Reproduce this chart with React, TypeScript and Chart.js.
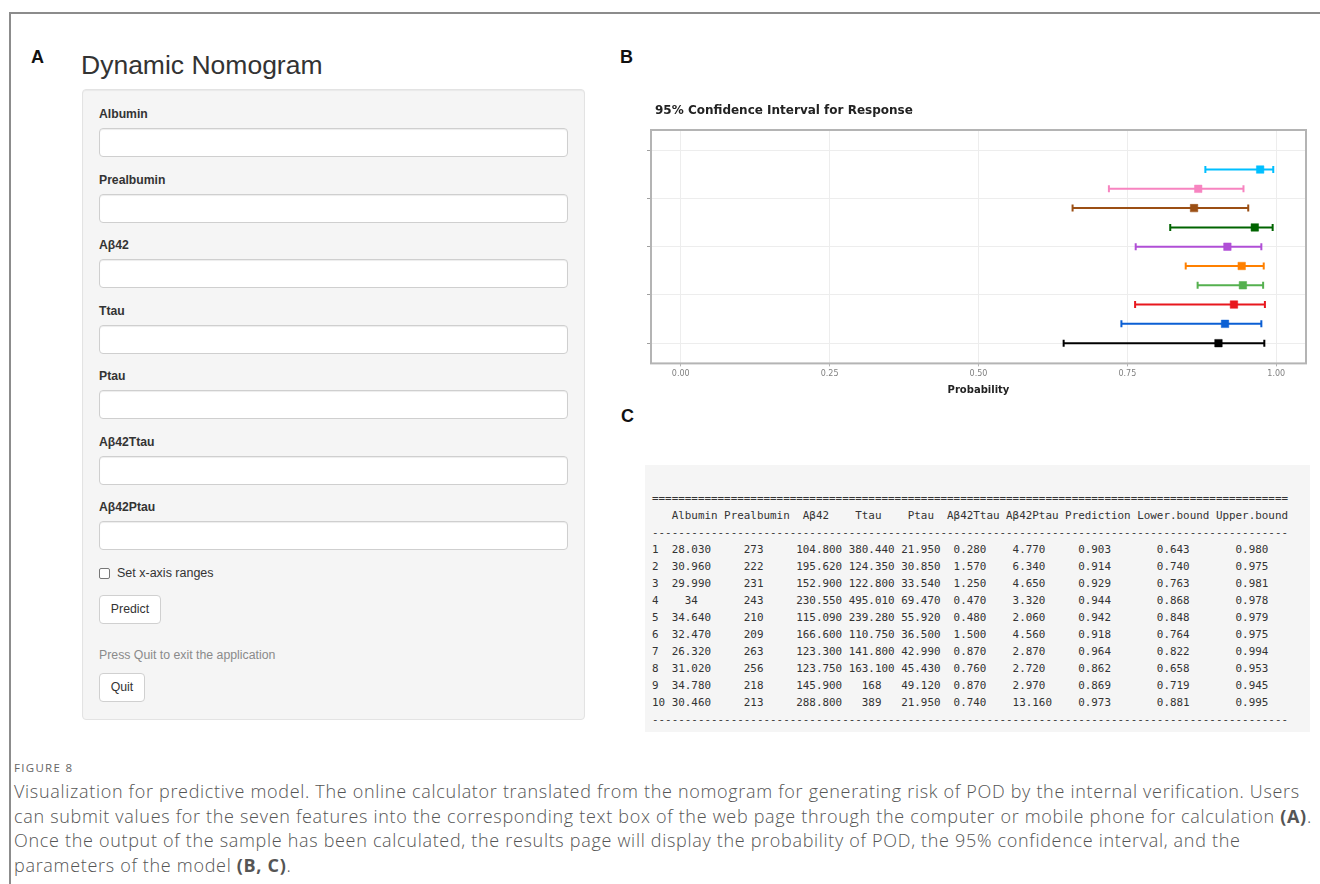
import React, { useEffect, useRef } from 'react';
import { Chart, registerables } from 'chart.js';

Chart.register(...registerables);

// ---------------- data ----------------
const rowIds = ['1', '2', '3', '4', '5', '6', '7', '8', '9', '10'];
const albumin = [28.03, 30.96, 29.99, 34, 34.64, 32.47, 26.32, 31.02, 34.78, 30.46];
const prealbumin = [273, 222, 231, 243, 210, 209, 263, 256, 218, 213];
const abeta42 = [104.8, 195.62, 152.9, 230.55, 115.09, 166.6, 123.3, 123.75, 145.9, 288.8];
const ttau = [380.44, 124.35, 122.8, 495.01, 239.28, 110.75, 141.8, 163.1, 168, 389];
const ptau = [21.95, 30.85, 33.54, 69.47, 55.92, 36.5, 42.99, 45.43, 49.12, 21.95];
const abeta42Ttau = [0.28, 1.57, 1.25, 0.47, 0.48, 1.5, 0.87, 0.76, 0.87, 0.74];
const abeta42Ptau = [4.77, 6.34, 4.65, 3.32, 2.06, 4.56, 2.87, 2.72, 2.97, 13.16];
const prediction = [0.903, 0.914, 0.929, 0.944, 0.942, 0.918, 0.964, 0.862, 0.869, 0.973];
const lowerBound = [0.643, 0.74, 0.763, 0.868, 0.848, 0.764, 0.822, 0.658, 0.719, 0.881];
const upperBound = [0.98, 0.975, 0.981, 0.978, 0.979, 0.975, 0.994, 0.953, 0.945, 0.995];
const rowColors = ['#000000', '#0b5fd4', '#e8171e', '#55b04f', '#ff8000', '#b04fd6', '#006400', '#9b4f14', '#f784c0', '#00bfff'];

const tableHeaders = ['Albumin', 'Prealbumin', 'Aβ42', 'Ttau', 'Ptau', 'Aβ42Ttau', 'Aβ42Ptau', 'Prediction', 'Lower.bound', 'Upper.bound'];
const formFields = ['Albumin', 'Prealbumin', 'Aβ42', 'Ttau', 'Ptau', 'Aβ42Ttau', 'Aβ42Ptau'];

const chartTitle = '95% Confidence Interval for Response';
const xAxisTitle = 'Probability';
const xTicks = [0, 0.25, 0.5, 0.75, 1];
const yTicks = [0, 2.5, 5, 7.5, 10];

const captionHead = 'FIGURE 8';

// ---------------- table text ----------------
const fmt = (v: number) => (Number.isInteger(v) ? String(v) : v.toFixed(3));
const tableColumns = [albumin, prealbumin, abeta42, ttau, ptau, abeta42Ttau, abeta42Ptau, prediction, lowerBound, upperBound];

function buildTable(): string {
  const cols = tableColumns.map((c) => c.map(fmt));
  const widths = tableHeaders.map((h, j) => Math.max(h.length, ...cols[j].map((s) => s.length)));
  const idW = Math.max(...rowIds.map((r) => r.length));
  const center = (s: string, w: number) => {
    const l = Math.floor((w - s.length) / 2);
    return ' '.repeat(l) + s + ' '.repeat(w - s.length - l);
  };
  const total = idW + widths.reduce((a, w) => a + w + 1, 0);
  const lines: string[] = [];
  lines.push('='.repeat(total));
  lines.push(' '.repeat(idW) + tableHeaders.map((h, j) => ' ' + center(h, widths[j])).join(''));
  lines.push('-'.repeat(total));
  rowIds.forEach((r, i) => {
    lines.push(r.padEnd(idW) + cols.map((c, j) => ' ' + center(c[i], widths[j])).join(''));
  });
  lines.push('-'.repeat(total));
  return lines.map((l) => l.replace(/\s+$/, '')).join('\n');
}

// ---------------- chart ----------------
const framePlugin = {
  id: 'plotFrame',
  afterDraw(chart: any) {
    const { ctx, chartArea: a } = chart;
    ctx.save();
    ctx.strokeStyle = '#b4b4b4';
    ctx.lineWidth = 2;
    ctx.strokeRect(a.left, a.top, a.right - a.left, a.bottom - a.top);
    ctx.restore();
  },
};

const titlePlugin = {
  id: 'plotTitle',
  afterDraw(chart: any) {
    const { ctx, chartArea: a } = chart;
    ctx.save();
    ctx.font = 'bold 12px "DejaVu Sans"';
    ctx.fillStyle = '#222222';
    ctx.textBaseline = 'middle';
    ctx.textAlign = 'left';
    ctx.fillText(chartTitle, a.left + 4, a.top - 19);
    ctx.restore();
  },
};

function ForestChart() {
  const ref = useRef<HTMLCanvasElement>(null);
  useEffect(() => {
    if (!ref.current) return;
    const intervalSets = prediction.map((_, i) => ({
      data: [
        { x: lowerBound[i], y: i },
        { x: upperBound[i], y: i },
      ],
      showLine: true,
      borderColor: rowColors[i],
      borderWidth: 2,
      pointStyle: 'line',
      pointRotation: 90,
      pointRadius: 3.5,
      pointBorderWidth: 2,
      pointBorderColor: rowColors[i],
      pointBackgroundColor: rowColors[i],
      order: 1,
    }));
    const pointSet = {
      data: prediction.map((p, i) => ({ x: p, y: i })),
      showLine: false,
      pointStyle: 'rect',
      pointRadius: 5.3,
      pointBackgroundColor: rowColors,
      pointBorderColor: rowColors,
      pointBorderWidth: 0.5,
      order: 0,
    };
    const chart = new Chart(ref.current, {
      type: 'scatter',
      data: { datasets: [pointSet as any, ...(intervalSets as any[])] },
      options: {
        animation: false,
        responsive: false,
        devicePixelRatio: 1,
        events: [],
        layout: { padding: { left: 17, right: 14, top: 35, bottom: 9 } },
        plugins: {
          legend: { display: false },
          tooltip: { enabled: false },
          title: { display: false },
        },
        scales: {
          x: {
            type: 'linear',
            min: -0.05,
            max: 1.05,
            afterBuildTicks: (s: any) => {
              s.ticks = xTicks.map((v) => ({ value: v }));
            },
            ticks: {
              callback: (v: any) => Number(v).toFixed(2),
              font: { family: '"DejaVu Sans"', size: 8 },
              color: '#808080',
              padding: 3,
              maxRotation: 0,
              autoSkip: false,
            },
            grid: { color: '#ededed', lineWidth: 1, tickLength: 3, tickColor: '#b4b4b4' },
            border: { display: false },
            title: {
              display: true,
              text: xAxisTitle,
              font: { family: '"DejaVu Sans"', size: 10, weight: 'bold' },
              color: '#222222',
              padding: { top: 2, bottom: 0 },
            },
          },
          y: {
            type: 'linear',
            min: -1.05,
            max: 11.05,
            afterBuildTicks: (s: any) => {
              s.ticks = yTicks.map((v) => ({ value: v }));
            },
            ticks: { display: false },
            grid: { color: '#ededed', lineWidth: 1, tickLength: 4, tickColor: '#a0a0a0' },
            border: { display: false },
          },
        },
      } as any,
      plugins: [framePlugin, titlePlugin],
    });
    return () => chart.destroy();
  }, []);
  return <canvas ref={ref} width={690} height={310} style={{ display: 'block', width: 690, height: 310 }} />;
}

// ---------------- page ----------------
const sans = '"Liberation Sans", Arial, Helvetica, sans-serif';

function Letter({ x, y, children }: { x: number; y: number; children: React.ReactNode }) {
  return (
    <div style={{ position: 'absolute', left: x, top: y - 10, lineHeight: '20px', fontSize: 18, fontWeight: 'bold', fontFamily: sans, color: '#111' }}>
      {children}
    </div>
  );
}

const inputStyle: React.CSSProperties = {
  position: 'absolute',
  left: 16,
  width: 469,
  height: 29,
  boxSizing: 'border-box',
  background: '#fff',
  border: '1px solid #cfcfcf',
  borderRadius: 4,
  boxShadow: 'inset 0 1px 1px rgba(0,0,0,0.075)',
};

const btnStyle: React.CSSProperties = {
  position: 'absolute',
  left: 16,
  height: 29,
  boxSizing: 'border-box',
  background: '#fff',
  border: '1px solid #d0d0d0',
  borderRadius: 4,
  fontSize: 12.3,
  color: '#333',
  lineHeight: '27px',
  textAlign: 'center',
};

export default function App() {
  const tableText = buildTable();
  return (
    <div style={{ position: 'absolute', left: 0, top: 0, width: 1320, height: 884, background: '#fff', overflow: 'hidden', fontFamily: sans }}>
      {/* figure frame */}
      <div style={{ position: 'absolute', left: 9, top: 12, width: 1400, height: 900, borderTop: '2px solid #8c8c8c', borderLeft: '2px solid #8c8c8c' }} />

      {/* Panel A */}
      <Letter x={31} y={57}>A</Letter>
      <div style={{ position: 'absolute', left: 81, top: 50, lineHeight: '30px', fontSize: 26.5, color: '#333', fontFamily: sans }}>Dynamic Nomogram</div>
      <div style={{ position: 'absolute', left: 82, top: 89, width: 503, height: 631, boxSizing: 'border-box', background: '#f5f5f5', border: '1px solid #e3e3e3', borderRadius: 4, boxShadow: 'inset 0 1px 1px rgba(0,0,0,0.05)' }}>
        {formFields.map((f, i) => (
          <React.Fragment key={f}>
            <div style={{ position: 'absolute', left: 16, top: 16 + i * 65.5, lineHeight: '16px', fontSize: 12.2, fontWeight: 'bold', color: '#333' }}>{f}</div>
            <div style={{ ...inputStyle, top: 38 + i * 65.5 }} />
          </React.Fragment>
        ))}
        <div style={{ position: 'absolute', left: 16, top: 478, width: 11, height: 11, boxSizing: 'border-box', border: '1px solid #777', borderRadius: 2, background: '#fff' }} />
        <div style={{ position: 'absolute', left: 34, top: 475, lineHeight: '16px', fontSize: 12.5, color: '#333' }}>Set x-axis ranges</div>
        <div style={{ ...btnStyle, top: 505, width: 62 }}>Predict</div>
        <div style={{ position: 'absolute', left: 16, top: 557, lineHeight: '16px', fontSize: 12.3, color: '#8a8a8a' }}>Press Quit to exit the application</div>
        <div style={{ ...btnStyle, top: 583, width: 46 }}>Quit</div>
      </div>

      {/* Panel B */}
      <Letter x={620} y={57}>B</Letter>
      <div style={{ position: 'absolute', left: 630, top: 95, width: 690, height: 310 }}>
        <ForestChart />
      </div>

      {/* Panel C */}
      <Letter x={621} y={416}>C</Letter>
      <div style={{ position: 'absolute', left: 645, top: 465, width: 665, height: 267, background: '#f5f5f5' }} />
      <pre style={{ position: 'absolute', left: 652, top: 490, margin: 0, fontFamily: '"DejaVu Sans Mono", "Liberation Mono", monospace', fontSize: 10.9, lineHeight: '17px', color: '#333' }}>{tableText}</pre>

      {/* Caption */}
      <div style={{ position: 'absolute', left: 14, top: 759, lineHeight: '18px', fontSize: 11.5, letterSpacing: 1.3, color: '#666', fontFamily: '"Open Sans", sans-serif' }}>{captionHead}</div>
      <div style={{ position: 'absolute', left: 14, top: 779, lineHeight: '24.5px', fontSize: 18, letterSpacing: 0.69, color: '#555', fontWeight: 300, fontFamily: '"Open Sans", sans-serif', whiteSpace: 'nowrap' }}>
        <div>Visualization for predictive model. The online calculator translated from the nomogram for generating risk of POD by the internal verification. Users</div>
        <div>can submit values for the seven features into the corresponding text box of the web page through the computer or mobile phone for calculation <b style={{ fontWeight: 700 }}>(A)</b>.</div>
        <div>Once the output of the sample has been calculated, the results page will display the probability of POD, the 95% confidence interval, and the</div>
        <div>parameters of the model <b style={{ fontWeight: 700 }}>(B, C)</b>.</div>
      </div>
    </div>
  );
}
